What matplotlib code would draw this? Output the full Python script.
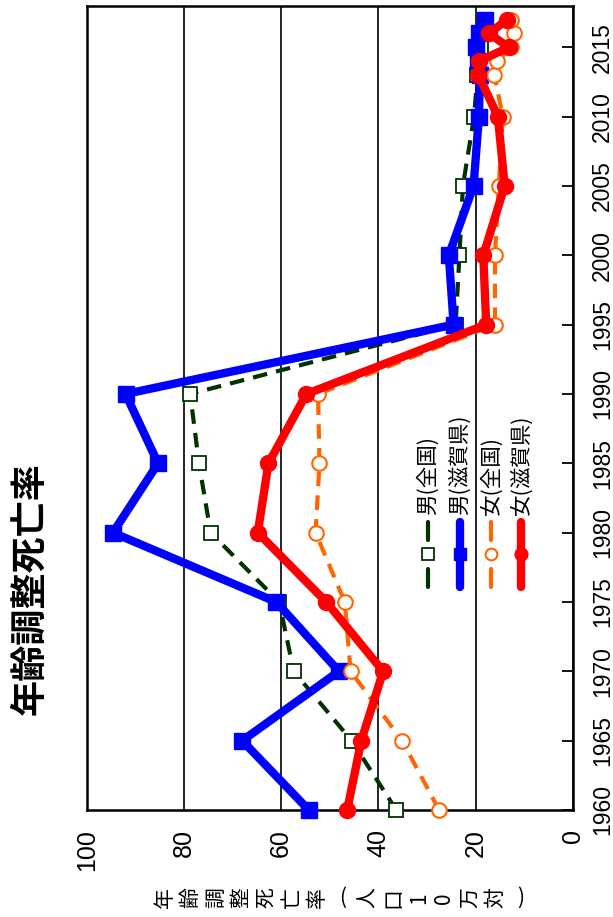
import matplotlib
matplotlib.use("Agg")
import matplotlib.pyplot as plt

# data (age-adjusted mortality, per 100k)
years = [1960, 1965, 1970, 1975, 1980, 1985, 1990, 1995, 2000, 2005, 2010, 2013, 2014, 2015, 2016, 2017]
male_nat = [36.3, 45.5, 57.4, 60.4, 74.5, 76.9, 78.7, 24.1, 23.3, 22.6, 20.3, 19.6, 19.2, 18.9, 18.5, 17.8]
male_shiga = [54.3, 68.0, 48.1, 61.0, 94.6, 85.3, 92.0, 24.5, 25.5, 20.4, 19.3, 19.1, 19.4, 19.8, 19.2, 18.0]
fem_nat = [27.5, 35.1, 45.7, 46.9, 52.9, 52.1, 52.4, 16.0, 16.0, 15.2, 14.4, 16.1, 15.6, 12.6, 12.1, 12.6]
fem_shiga = [46.4, 43.5, 39.0, 50.7, 64.8, 62.6, 54.8, 17.8, 18.4, 14.0, 15.4, 19.4, 19.2, 13.2, 17.2, 13.5]
labels = ["男(全国)", "男(滋賀県)", "女(全国)", "女(滋賀県)"]
year_ticks = [1960, 1965, 1970, 1975, 1980, 1985, 1990, 1995, 2000, 2005, 2010, 2015]
value_ticks = [0, 20, 40, 60, 80, 100]

plt.rcParams['font.family'] = ['Liberation Sans', 'Noto Sans CJK JP']
jp = 'Noto Sans CJK JP'

fig = plt.figure(figsize=(6.13, 9.17), dpi=100)
ax = fig.add_axes([0.1414, 0.1167, 0.7929, 0.8771])

# styles: (color, linestyle, lw, marker, ms, facecolor, mew)
styles = [
    ('#003300', (0, (3.5, 2.2)), 3, 's', 10, 'white', 1.3),
    ('#0000ff', '-', 6, 's', 11.5, '#0000ff', 1),
    ('#ff6600', (0, (3.5, 2.2)), 3, 'o', 10.5, 'white', 1.5),
    ('#ff0000', '-', 6, 'o', 11.5, '#ff0000', 1),
]
series = [male_nat, male_shiga, fem_nat, fem_shiga]

for vals, (c, ls, lw, m, ms, fc, mew) in zip(series, styles):
    ax.plot(vals, years, color=c, ls=ls, lw=lw, marker=m, ms=ms,
            mfc=fc, mec=c, mew=mew, clip_on=False, zorder=3)

ax.set_xlim(100, 0)
ax.set_ylim(1960, 2018)
ax.set_xticks(value_ticks)
ax.set_xticklabels([str(v) for v in value_ticks], rotation=90, fontsize=18)
ax.tick_params(axis='x', length=0, pad=14)
ax.grid(axis='x', color='black', lw=1.2)
ax.yaxis.tick_right()
ax.set_yticks(year_ticks)
ax.set_yticklabels([str(y) for y in year_ticks], rotation=90, fontsize=16.5, va='center')
ax.tick_params(axis='y', direction='in', length=8, width=1.3, pad=13)
for s in ax.spines.values():
    s.set_linewidth(1.8)

# legend drawn sideways by hand
leg_x = [0.702, 0.768, 0.832, 0.894]
for x, lab, (c, ls, lw, m, ms, fc, mew) in zip(leg_x, labels, styles):
    if ls == '-':
        ax.plot([x, x], [0.277, 0.358], color=c, lw=lw, solid_capstyle='round',
                transform=ax.transAxes, clip_on=False, zorder=4)
    else:
        ax.plot([x, x], [0.277, 0.300], color=c, lw=lw, solid_capstyle='round',
                transform=ax.transAxes, clip_on=False, zorder=4)
        ax.plot([x, x], [0.336, 0.358], color=c, lw=lw, solid_capstyle='round',
                transform=ax.transAxes, clip_on=False, zorder=4)
    ax.plot([x], [0.318], marker=m, ms=ms * 0.8, mfc=fc, mec=c, mew=mew,
            transform=ax.transAxes, clip_on=False, zorder=5)
    ax.text(x, 0.367, lab, rotation=90, ha='center', va='bottom',
            fontsize=15.5, family=jp, transform=ax.transAxes)

# title
fig.text(0.049, 0.358, "年齢調整死亡率", rotation=90, ha='center', va='center',
         fontsize=26, fontweight='bold', family=jp)

# axis label, each character turned
ylab = "年齢調整死亡率(人口10万対)"
for i, ch in enumerate(ylab):
    xp = (165 + 25.4 * i) / 613
    if ch in "()":
        fig.text(xp, 0.0207, ch, ha='center', va='center', fontsize=15, family=jp)
    else:
        fig.text(xp, 0.0207, ch, rotation=90, ha='center', va='center',
                 fontsize=15, family=[jp, 'DejaVu Sans'])

fig.savefig("out.png", dpi=100)
